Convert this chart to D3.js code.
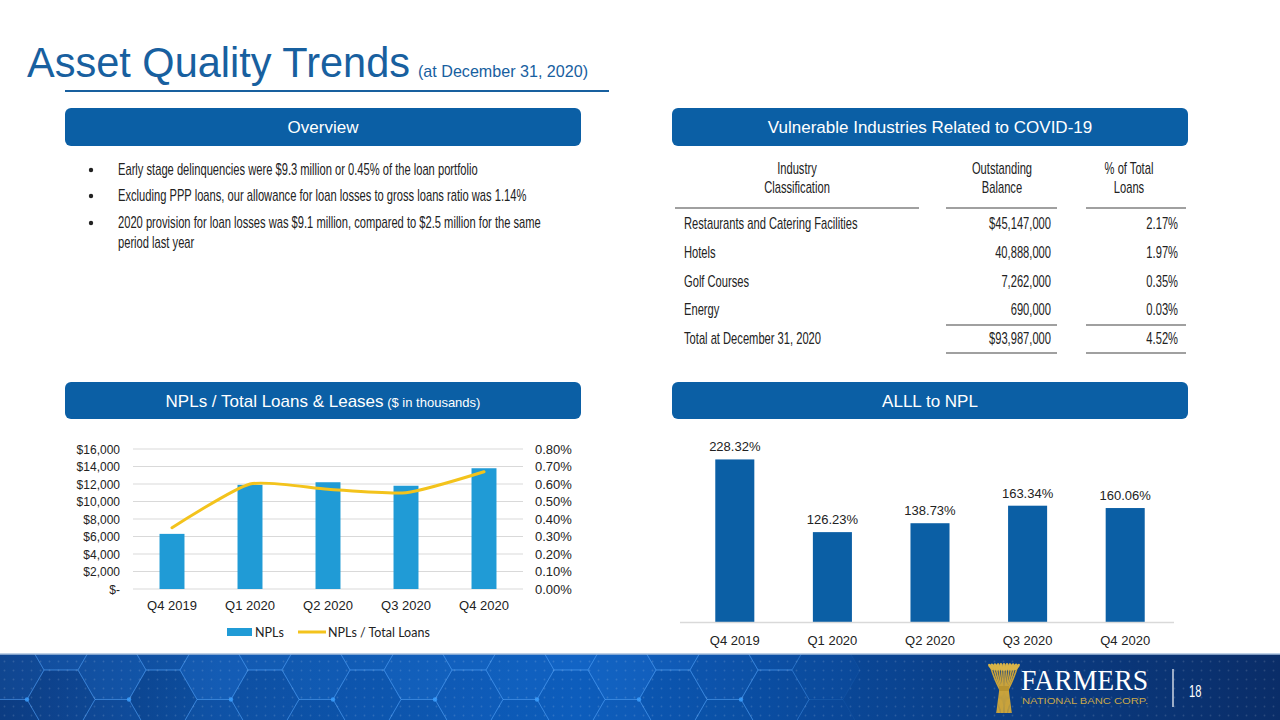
<!DOCTYPE html>
<html>
<head>
<meta charset="utf-8">
<script src="https://cdn.jsdelivr.net/npm/d3@7"></script>
<style>
  html, body { margin: 0; padding: 0; background: #fff; }
  svg { display: block; }
  .cond { font-family: 'Liberation Sans Narrow', 'Liberation Sans', Arial, sans-serif; }
  .sans { font-family: 'Liberation Sans', Arial, Helvetica, sans-serif; }
</style>
</head>
<body>
<svg id="slide" width="1280" height="720"></svg>
<script>
// ---------------- DATA ----------------
const quarters = ["Q4 2019", "Q1 2020", "Q2 2020", "Q3 2020", "Q4 2020"];
const npls = [6300, 11900, 12200, 11800, 13800];            // $ thousands
const nplRatio = [0.35, 0.60, 0.57, 0.55, 0.67];             // %
const alllToNpl = [228.32, 126.23, 138.73, 163.34, 160.06];  // %
const leftTicks = [0, 2000, 4000, 6000, 8000, 10000, 12000, 14000, 16000];
const rightTicks = [0, 0.1, 0.2, 0.3, 0.4, 0.5, 0.6, 0.7, 0.8];
const legendLabels = ["NPLs", "NPLs / Total Loans"];

const industries = ["Restaurants and Catering Facilities", "Hotels", "Golf Courses", "Energy", "Total at December 31, 2020"];
const balances = ["$45,147,000", "40,888,000", "7,262,000", "690,000", "$93,987,000"];
const pctLoans = ["2.17%", "1.97%", "0.35%", "0.03%", "4.52%"];
const tableHeaders = [["Industry", "Classification"], ["Outstanding", "Balance"], ["% of Total", "Loans"]];

const bullets = [
  ["Early stage delinquencies were $9.3 million or 0.45% of the loan portfolio"],
  ["Excluding PPP loans, our allowance for loan losses to gross loans ratio was 1.14%"],
  ["2020 provision for loan losses was $9.1 million, compared to $2.5 million for the same", "period last year"]
];

// ---------------- STYLE ----------------
const BLUE = "#0b5fa5";
const TITLE_BLUE = "#18609f";
const LIGHT_BAR = "#209bd6";
const GOLD = "#f3c31c";
const CFS = 16; // condensed font size

const svg = d3.select("#slide");

// narrow-typeface emulation: text drawn at origin, placed and horizontally squeezed by transform
let K = 0.7;
function condText(parent, x, y, str, anchor) {
  return parent.append("text").attr("class", "cond")
    .attr("transform", `translate(${x},${y}) scale(${K},1)`)
    .attr("text-anchor", anchor || "start")
    .attr("font-size", CFS).attr("fill", "#222").text(str);
}

// ---------------- TITLE ----------------
svg.append("text").attr("class", "sans").attr("x", 27).attr("y", 77)
  .attr("font-size", 42).attr("fill", TITLE_BLUE).attr("textLength", 383).attr("lengthAdjust", "spacingAndGlyphs")
  .text("Asset Quality Trends");
svg.append("text").attr("class", "sans").attr("x", 418).attr("y", 77)
  .attr("font-size", 17).attr("fill", TITLE_BLUE).attr("textLength", 170).attr("lengthAdjust", "spacingAndGlyphs")
  .text("(at December 31, 2020)");
svg.append("rect").attr("x", 65).attr("y", 90).attr("width", 544).attr("height", 2).attr("fill", TITLE_BLUE);

// ---------------- HEADER BOXES ----------------
function headerBox(x, y, w, h, main, sub) {
  svg.append("rect").attr("x", x).attr("y", y).attr("width", w).attr("height", h)
    .attr("rx", 6).attr("fill", BLUE);
  const t = svg.append("text").attr("class", "sans").attr("x", x + w / 2).attr("y", y + h / 2 + 6)
    .attr("text-anchor", "middle").attr("fill", "#fff").attr("font-size", 17);
  t.append("tspan").text(main);
  if (sub) t.append("tspan").attr("font-size", 13).text(" " + sub);
}
headerBox(65, 108, 516, 38, "Overview");
headerBox(672, 108, 516, 38, "Vulnerable Industries Related to COVID-19");
headerBox(65, 382, 516, 37, "NPLs / Total Loans & Leases", "($ in thousands)");
headerBox(672, 382, 516, 37, "ALLL to NPL");

// ---------------- OVERVIEW BULLETS ----------------
const probe = svg.append("text").attr("class", "cond").attr("font-size", CFS).text(bullets[0][0]);
K = 360 / probe.node().getComputedTextLength();
probe.remove();

const lineYs = [[175], [201], [228, 248]];
bullets.forEach((b, i) => {
  svg.append("circle").attr("cx", 91).attr("cy", lineYs[i][0] - 5).attr("r", 2.2).attr("fill", "#222");
  b.forEach((line, j) => condText(svg, 118, lineYs[i][j], line));
});

// ---------------- TABLE ----------------
const colCenters = [797, 1002, 1129];
tableHeaders.forEach((h, i) => {
  h.forEach((line, j) => condText(svg, colCenters[i], 174 + j * 19, line, "middle"));
});
const ruleSegs = [[675, 919], [946, 1057], [1086, 1186]];
ruleSegs.forEach(s => svg.append("line").attr("x1", s[0]).attr("x2", s[1]).attr("y1", 208).attr("y2", 208)
  .attr("stroke", "#808080").attr("stroke-width", 1.5));
ruleSegs.slice(1).forEach(s => {
  [325, 353].forEach(yy => svg.append("line").attr("x1", s[0]).attr("x2", s[1]).attr("y1", yy).attr("y2", yy)
    .attr("stroke", "#808080").attr("stroke-width", 1.5));
});
const rowY = d3.scalePoint().domain(industries).range([229, 344]);
industries.forEach((ind, i) => {
  const y = rowY(ind);
  condText(svg, 684, y, ind);
  condText(svg, 1051, y, balances[i], "end");
  condText(svg, 1178, y, pctLoans[i], "end");
});

// ---------------- LEFT CHART: NPLs ----------------
const xL = d3.scaleBand().domain(quarters).range([133, 523]).paddingInner(0.68).paddingOuter(0.34);
const yL = d3.scaleLinear().domain([0, 16000]).range([589, 449]);
const yR = d3.scaleLinear().domain([0, 0.8]).range([589, 449]);

const gL = svg.append("g");
gL.selectAll(".grid").data(leftTicks).enter().append("line")
  .attr("x1", 133).attr("x2", 523).attr("y1", d => yL(d)).attr("y2", d => yL(d))
  .attr("stroke", "#d9d9d9").attr("stroke-width", 1);

gL.selectAll(".ylab").data(leftTicks).enter().append("text").attr("class", "sans")
  .attr("x", 120).attr("y", d => yL(d) + 4.5).attr("text-anchor", "end").attr("font-size", 12).attr("fill", "#222")
  .text(d => d === 0 ? "$-" : "$" + d3.format(",")(d));
gL.selectAll(".yrlab").data(rightTicks).enter().append("text").attr("class", "sans")
  .attr("x", 535).attr("y", d => yR(d) + 4.5).attr("font-size", 13).attr("fill", "#222")
  .text(d => d3.format(".2f")(d) + "%");

gL.selectAll(".bar").data(quarters).enter().append("rect")
  .attr("x", d => xL(d)).attr("width", xL.bandwidth())
  .attr("y", (d, i) => yL(npls[i])).attr("height", (d, i) => yL(0) - yL(npls[i]))
  .attr("fill", LIGHT_BAR);

const line = d3.line().x((d, i) => xL(quarters[i]) + xL.bandwidth() / 2).y(d => yR(d)).curve(d3.curveCardinal.tension(0.4));
gL.append("path").datum(nplRatio).attr("d", line).attr("fill", "none").attr("stroke", GOLD)
  .attr("stroke-width", 3).attr("stroke-linecap", "round");

gL.selectAll(".xlab").data(quarters).enter().append("text").attr("class", "sans")
  .attr("x", d => xL(d) + xL.bandwidth() / 2).attr("y", 610).attr("text-anchor", "middle")
  .attr("font-size", 13).attr("fill", "#222").text(d => d);

// legend
const leg = gL.append("g");
leg.append("rect").attr("x", 227).attr("y", 628).attr("width", 25).attr("height", 8).attr("fill", LIGHT_BAR);
leg.append("text").attr("x", 255).attr("y", 637).attr("font-family", "Lato, 'Open Sans', sans-serif")
  .attr("font-size", 12.5).attr("fill", "#222").text(legendLabels[0]);
leg.append("line").attr("x1", 298).attr("x2", 326).attr("y1", 632).attr("y2", 632).attr("stroke", GOLD).attr("stroke-width", 3);
leg.append("text").attr("x", 328).attr("y", 637).attr("font-family", "Lato, 'Open Sans', sans-serif")
  .attr("font-size", 12.5).attr("fill", "#222").text(legendLabels[1]);

// ---------------- RIGHT CHART: ALLL to NPL ----------------
const xA = d3.scaleBand().domain(quarters).range([686, 1174]).paddingInner(0.6).paddingOuter(0.3);
const yA = d3.scaleLinear().domain([0, 250]).range([622, 444]);
const gA = svg.append("g");
gA.selectAll(".bar").data(quarters).enter().append("rect")
  .attr("x", d => xA(d)).attr("width", xA.bandwidth())
  .attr("y", (d, i) => yA(alllToNpl[i])).attr("height", (d, i) => yA(0) - yA(alllToNpl[i]))
  .attr("fill", BLUE);
gA.append("line").attr("x1", 680).attr("x2", 1174).attr("y1", 622.5).attr("y2", 622.5)
  .attr("stroke", "#d9d9d9").attr("stroke-width", 1.5);
gA.selectAll(".vlab").data(quarters).enter().append("text").attr("class", "sans")
  .attr("x", d => xA(d) + xA.bandwidth() / 2).attr("y", (d, i) => yA(alllToNpl[i]) - 8)
  .attr("text-anchor", "middle").attr("font-size", 13).attr("fill", "#222")
  .text((d, i) => d3.format(".2f")(alllToNpl[i]) + "%");
gA.selectAll(".xlab").data(quarters).enter().append("text").attr("class", "sans")
  .attr("x", d => xA(d) + xA.bandwidth() / 2).attr("y", 645).attr("text-anchor", "middle")
  .attr("font-size", 13).attr("fill", "#222").text(d => d);

// ---------------- FOOTER ----------------
const defs = svg.append("defs");
const grad = defs.append("linearGradient").attr("id", "fg").attr("x1", 0).attr("x2", 1).attr("y1", 0).attr("y2", 0);
[[0, "#0a3577"], [0.18, "#0c4d9e"], [0.45, "#0a58b5"], [0.62, "#0a4a9c"], [1, "#0a2d68"]]
  .forEach(s => grad.append("stop").attr("offset", s[0]).attr("stop-color", s[1]));
const dots = defs.append("pattern").attr("id", "dots").attr("width", 9).attr("height", 9).attr("patternUnits", "userSpaceOnUse");
dots.append("circle").attr("cx", 4.5).attr("cy", 4.5).attr("r", 0.9).attr("fill", "rgba(255,255,255,0.13)");
const clip = defs.append("clipPath").attr("id", "fclip");
clip.append("rect").attr("x", 0).attr("y", 654).attr("width", 1280).attr("height", 66);

const foot = svg.append("g").attr("clip-path", "url(#fclip)");
foot.append("rect").attr("x", 0).attr("y", 654).attr("width", 1280).attr("height", 66).attr("fill", "url(#fg)");
const hexR = 34;
const hex = d3.range(6).map(k => [hexR * Math.cos(Math.PI / 3 * k), hexR * Math.sin(Math.PI / 3 * k)]);
const hexPath = "M" + hex.map(p => p.join(",")).join("L") + "Z";
const hexCenters = [];
for (let c = 0; c < 17; c++) {
  for (let r = -1; r < 2; r++) {
    hexCenters.push([c * hexR * 1.5 + 10, 670 + r * hexR * Math.sqrt(3) + (c % 2 ? hexR * Math.sqrt(3) / 2 : 0)]);
  }
}
const fills = [0.05, 0.22, 0.1, 0.3, 0.12, 0.25, 0.08, 0.28, 0.15, 0.2];
foot.selectAll(".hex").data(hexCenters).enter().append("path")
  .attr("d", hexPath).attr("transform", d => `translate(${d[0]},${d[1]})`)
  .attr("fill", (d, i) => `rgba(40,130,235,${fills[i % fills.length] * (d[0] < 700 ? 1 : 0.3)})`)
  .attr("stroke", (d) => `rgba(90,170,255,${d[0] < 800 ? 0.35 : 0.08})`).attr("stroke-width", 1);
foot.selectAll(".node").data(hexCenters.filter((d, i) => i % 2 === 0 && d[0] < 800)).enter().append("circle")
  .attr("cx", d => d[0] - hexR).attr("cy", d => d[1]).attr("r", 2.2).attr("fill", "rgba(60,160,255,0.8)");
foot.append("rect").attr("x", 0).attr("y", 654).attr("width", 1280).attr("height", 66).attr("fill", "url(#dots)");
svg.append("line").attr("x1", 0).attr("x2", 1280).attr("y1", 654).attr("y2", 654).attr("stroke", "#a9c1de").attr("stroke-width", 1.5);

// logo: wheat sheaf
const sheaf = svg.append("g").attr("stroke", "#c9a33c").attr("fill", "none").attr("stroke-width", 1.6);
d3.range(-5, 6).forEach(k => {
  sheaf.append("path").attr("d", `M${1004 + k * 0.8},690 Q${1004 + k * 2},678 ${1004 + k * 2.6},668`);
  sheaf.append("ellipse").attr("cx", 1004 + k * 2.6).attr("cy", 667).attr("rx", 1.6).attr("ry", 4)
    .attr("fill", "#d8b448").attr("stroke", "none")
    .attr("transform", `rotate(${k * 8},${1004 + k * 2.6},667)`);
  sheaf.append("path").attr("d", `M${1004 + k * 0.8},690 L${1004 + k * 1.4},713`);
});
sheaf.append("rect").attr("x", 999).attr("y", 686).attr("width", 10).attr("height", 5).attr("fill", "#b8932f").attr("stroke", "none");

svg.append("text").attr("x", 1021).attr("y", 690).attr("font-family", "'Liberation Serif', 'DejaVu Serif', serif")
  .attr("font-size", 30).attr("fill", "#fff").attr("textLength", 127).attr("lengthAdjust", "spacingAndGlyphs").text("FARMERS");
svg.append("text").attr("x", 1022).attr("y", 704).attr("class", "sans")
  .attr("font-size", 9.5).attr("fill", "#c9a84a").attr("textLength", 126).attr("lengthAdjust", "spacingAndGlyphs").text("NATIONAL BANC CORP.");
svg.append("line").attr("x1", 1173).attr("x2", 1173).attr("y1", 669).attr("y2", 707).attr("stroke", "#fff").attr("stroke-width", 1.2);
condText(svg, 1189, 697, "18").attr("fill", "#fff");
</script>
</body>
</html>
